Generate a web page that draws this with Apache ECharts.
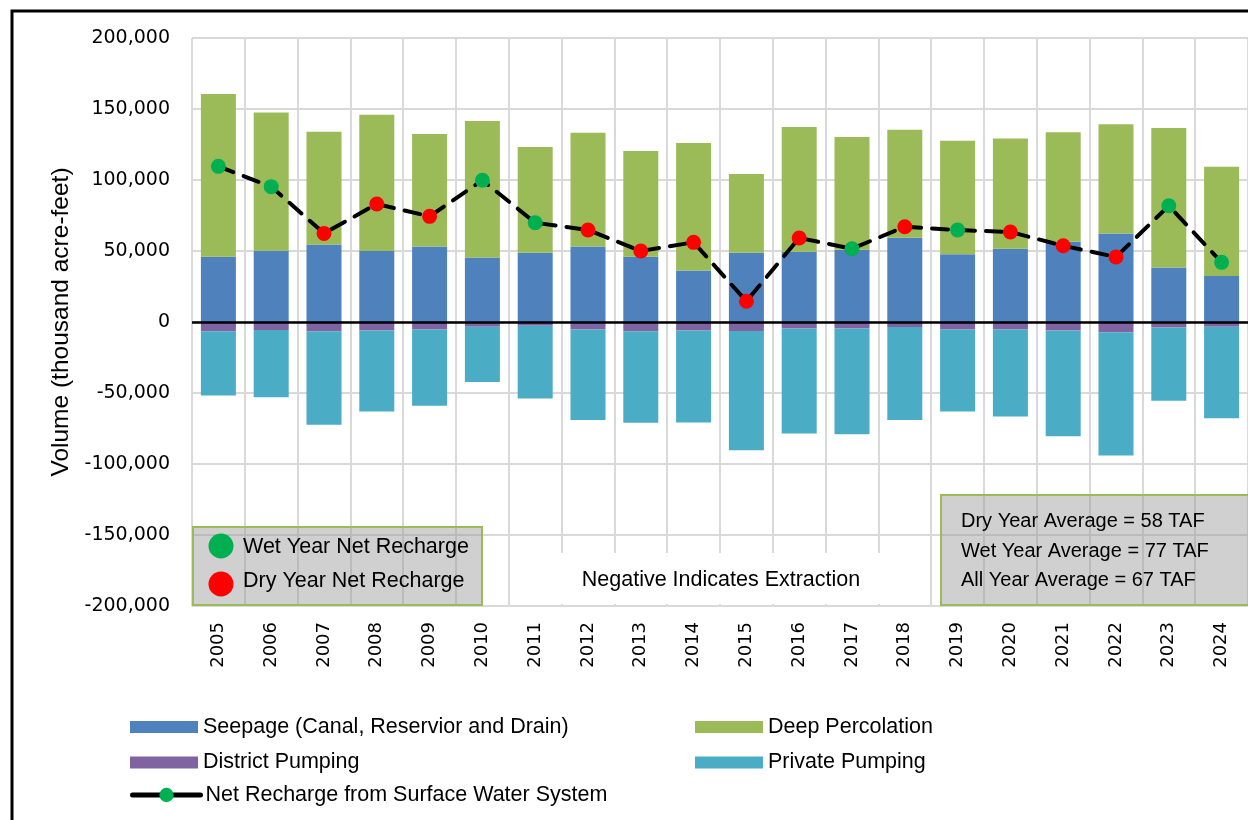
<!DOCTYPE html>
<html>
<head>
<meta charset="utf-8">
<script src="https://cdn.jsdelivr.net/npm/echarts@6/dist/echarts.min.js"></script>
<style>
  html, body { margin: 0; padding: 0; background: #fff; }
  #chart { width: 1248px; height: 820px; }
</style>
</head>
<body>
<div id="chart"></div>
<script>
// data
var years = ["2005", "2006", "2007", "2008", "2009", "2010", "2011", "2012", "2013", "2014",
             "2015", "2016", "2017", "2018", "2019", "2020", "2021", "2022", "2023", "2024"];
var seepage = [46000, 50200, 54500, 50000, 53100, 45500, 48800, 53100, 46000, 36200,
               48800, 49500, 50900, 59400, 47700, 51600, 56600, 62400, 38300, 32400];
var deepPerc = [114600, 97400, 79500, 96000, 79300, 96000, 74400, 80200, 74400, 89900,
                55400, 87800, 79400, 76000, 80000, 77700, 77000, 76800, 98300, 77000];
var districtPumping = [-6600, -5600, -6600, -5900, -5200, -3300, -2600, -5200, -6600, -5900,
                       -6300, -4500, -4500, -3500, -5200, -5200, -5900, -7300, -3800, -3300];
var privatePumping = [-45100, -47400, -65700, -57200, -53700, -39000, -51200, -63800, -64300, -64800,
                      -84100, -74100, -74600, -65500, -57900, -61400, -74600, -86800, -51600, -64500];
var netRecharge = [109600, 95300, 62400, 83100, 74400, 99800, 69900, 64800, 50000, 56100,
                   14600, 59200, 51600, 67100, 64800, 63400, 53700, 45800, 81900, 42000];
var yearType = ["wet", "wet", "dry", "dry", "dry", "wet", "wet", "dry", "dry", "dry",
                "dry", "dry", "wet", "dry", "wet", "dry", "dry", "dry", "wet", "wet"];
var yTicks = { min: -200000, max: 200000, step: 50000 };
var averages = ["Dry Year Average = 58 TAF", "Wet Year Average = 77 TAF", "All Year Average = 67 TAF"];

var WET = "#00B050", DRY = "#FF0000";
var FONT = "Liberation Sans";

var chart = echarts.init(document.getElementById("chart"), null, { renderer: "canvas" });

var netData = netRecharge.map(function (v, i) {
  return { value: v, itemStyle: { color: yearType[i] === "wet" ? WET : DRY } };
});

function barSeries(name, data, color) {
  return {
    name: name,
    type: "bar",
    stack: "total",
    barWidth: 35,
    data: data,
    itemStyle: { color: color },
    emphasis: { disabled: true }
  };
}

var legendText = { color: "#000", fontFamily: FONT, fontSize: 21.5, lineHeight: 21 };

function legendBlock(left, top, names, extra) {
  var l = {
    orient: "vertical",
    left: left,
    top: top,
    itemWidth: 68,
    itemHeight: 12,
    itemGap: 13.5,
    selectedMode: false,
    textStyle: legendText,
    data: names
  };
  return Object.assign(l, extra || {});
}

var option = {
  animation: false,
  backgroundColor: "#fff",
  grid: { left: 192, top: 38, width: 1061, height: 568 },
  xAxis: {
    type: "category",
    data: years,
    axisLine: { show: false },
    axisTick: { show: false },
    axisLabel: {
      rotate: 90,
      margin: 16,
      color: "#000",
      fontFamily: "DejaVu Sans",
      fontSize: 18
    },
    splitLine: { show: true, lineStyle: { color: "#D9D9D9", width: 2 } }
  },
  yAxis: {
    type: "value",
    min: yTicks.min,
    max: yTicks.max,
    interval: yTicks.step,
    name: "Volume (thousand acre-feet)",
    nameLocation: "middle",
    nameGap: 118,
    nameTextStyle: { color: "#000", fontFamily: FONT, fontSize: 24.5 },
    axisLine: { show: false },
    axisTick: { show: false },
    axisLabel: {
      margin: 22,
      color: "#000",
      fontFamily: "DejaVu Sans",
      fontSize: 19,
      formatter: function (v) { return v.toLocaleString("en-US"); }
    },
    splitLine: { show: true, lineStyle: { color: "#D9D9D9", width: 2 } }
  },
  legend: [
    legendBlock(125, 711, [
      { name: "Seepage (Canal, Reservior and Drain)", icon: "rect" },
      { name: "District Pumping", icon: "rect" }
    ]),
    legendBlock(690, 711, [
      { name: "Deep Percolation", icon: "rect" },
      { name: "Private Pumping", icon: "rect" }
    ]),
    legendBlock(125, 779, [
      { name: "Net Recharge from Surface Water System" }
    ], { itemHeight: 18, lineStyle: { type: "solid", width: 5 } })
  ],
  series: [
    barSeries("Seepage (Canal, Reservior and Drain)", seepage, "#4F81BD"),
    barSeries("Deep Percolation", deepPerc, "#9BBB59"),
    barSeries("District Pumping", districtPumping, "#8064A2"),
    barSeries("Private Pumping", privatePumping, "#4BACC6"),
    {
      name: "Net Recharge from Surface Water System",
      type: "line",
      data: netData,
      symbol: "circle",
      symbolSize: 15,
      itemStyle: { color: WET },
      lineStyle: { color: "#000", width: 4, type: [16, 11], cap: "round" },
      emphasis: { disabled: true },
      z: 5,
      markLine: {
        silent: true,
        symbol: "none",
        label: { show: false },
        lineStyle: { color: "#000", width: 2.5, type: "solid" },
        data: [{ yAxis: 0 }]
      }
    }
  ],
  graphic: [
    // outer frame, cropped at the right and bottom
    { type: "rect", z: 100, shape: { x: 12, y: 11, width: 1400, height: 1000 },
      style: { fill: "none", stroke: "#000", lineWidth: 3 } },
    // wet / dry key box
    { type: "rect", z: 100, shape: { x: 193, y: 527, width: 289, height: 78 },
      style: { fill: "rgba(150,150,150,0.45)", stroke: "#9BBB59", lineWidth: 2 } },
    { type: "circle", z: 101, shape: { cx: 221, cy: 546, r: 12.5 }, style: { fill: WET } },
    { type: "circle", z: 101, shape: { cx: 221, cy: 584, r: 12.5 }, style: { fill: DRY } },
    { type: "text", z: 101, x: 243, y: 547,
      style: { text: "Wet Year Net Recharge", fill: "#000", font: "21.5px " + FONT, textVerticalAlign: "middle" } },
    { type: "text", z: 101, x: 243, y: 581,
      style: { text: "Dry Year Net Recharge", fill: "#000", font: "21.5px " + FONT, textVerticalAlign: "middle" } },
    // note in the middle
    { type: "rect", z: 100, shape: { x: 543, y: 553, width: 356, height: 51 }, style: { fill: "#fff" } },
    { type: "text", z: 101, x: 721, y: 580,
      style: { text: "Negative Indicates Extraction", fill: "#000", font: "21.5px " + FONT,
               textAlign: "center", textVerticalAlign: "middle" } },
    // averages box
    { type: "rect", z: 100, shape: { x: 941, y: 495, width: 320, height: 110 },
      style: { fill: "rgba(150,150,150,0.45)", stroke: "#9BBB59", lineWidth: 2 } },
    { type: "text", z: 101, x: 961, y: 521,
      style: { text: averages[0], fill: "#000", font: "20px " + FONT, textVerticalAlign: "middle" } },
    { type: "text", z: 101, x: 961, y: 551,
      style: { text: averages[1], fill: "#000", font: "20px " + FONT, textVerticalAlign: "middle" } },
    { type: "text", z: 101, x: 961, y: 580,
      style: { text: averages[2], fill: "#000", font: "20px " + FONT, textVerticalAlign: "middle" } }
  ]
};

chart.setOption(option);
window.addEventListener("resize", function () { chart.resize(); });
</script>
</body>
</html>
